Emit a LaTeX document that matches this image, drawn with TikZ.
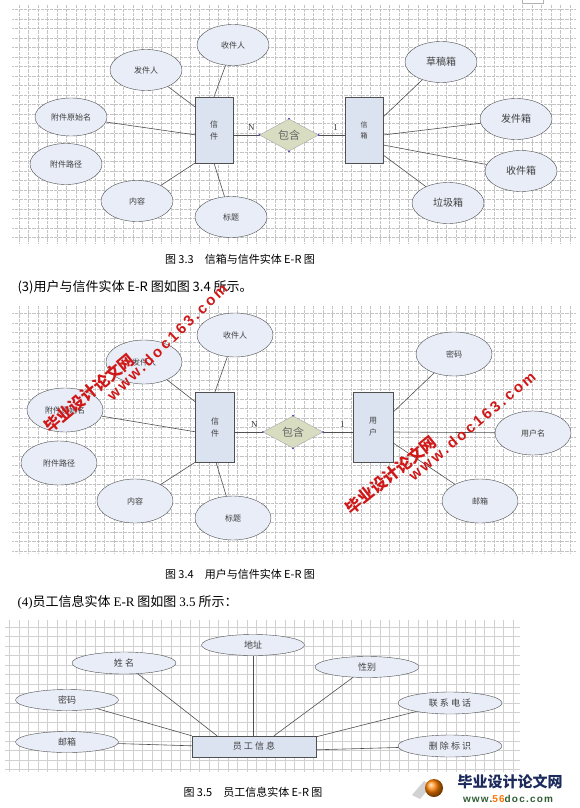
\documentclass[tikz,border=0pt]{standalone}
\usepackage{fontspec}
\setmainfont{Noto Sans CJK SC}
\newfontfamily\serifnum{Liberation Serif}
\newfontfamily\wmfont[LetterSpace=18]{Liberation Sans}
\newfontfamily\logofont[LetterSpace=12]{Liberation Sans}
\usetikzlibrary{shapes.geometric}
\definecolor{attrfill}{HTML}{E8EDF7}
\definecolor{entfill}{HTML}{DCE3F0}
\definecolor{relfill}{HTML}{D8DDC2}
\definecolor{linegray}{HTML}{505050}
\definecolor{wmred}{HTML}{D01818}
\definecolor{gridgray}{HTML}{C4C4C4}
\definecolor{logonavy}{HTML}{1C2A5C}
\definecolor{logogreen}{HTML}{2F5E34}
\begin{document}
\begin{tikzpicture}[x=1pt,y=1pt,
  attr/.style={ellipse,draw=linegray,fill=attrfill,inner sep=0pt,minimum width=72pt,minimum height=41pt,font=\fontsize{8}{9}\selectfont,text=black!75},
  bigattr/.style={attr,font=\fontsize{10}{11}\selectfont},
  flatattr/.style={attr,minimum width=103pt,minimum height=21pt,font=\fontsize{9}{10}\selectfont},
  ent/.style={rectangle,draw=linegray,fill=entfill,inner sep=0pt,minimum width=38pt,minimum height=66pt,align=center,font=\fontsize{8}{12}\selectfont,text=black!75},
  rel/.style={diamond,draw=gray!70,fill=relfill,inner sep=0pt,minimum width=59pt,minimum height=31pt,font=\fontsize{11}{12}\selectfont,text=black!60},
  conn/.style={draw=linegray,line width=0.6pt},
  card/.style={font=\serifnum\fontsize{9}{10}\selectfont,text=black!80},
  caption/.style={font=\fontsize{11}{12}\selectfont},
  bodytext/.style={anchor=west,font=\fontsize{13}{14}\selectfont},
  wm/.style={text=wmred,font=\bfseries\fontsize{16}{16}\selectfont},
  wmurl/.style={text=wmred,font=\wmfont\bfseries\fontsize{15}{15}\selectfont}]
\useasboundingbox (0,0) rectangle (580,-808);
\fill[white] (0,0) rectangle (580,-808);
\draw[gray!60] (522,0) -- (522,-3) -- (543,-3) -- (543,0);
% grids
\draw[gridgray,densely dotted,line width=0.3pt,step=9.5pt] (12,-243) grid (575,-5);
\draw[gridgray,densely dotted,line width=0.3pt,step=9.5pt] (12,-553) grid (575,-305);
\draw[gridgray!80,line width=0.3pt,step=9.5pt] (5,-772) grid (520,-620);

% 3.3
\node[ent] (xjA) at (214,-130) {信\\件};
\node[attr] (sjrA) at (233,-45) {收件人};
\node[attr] (fjrA) at (146,-70) {发件人};
\node[attr,minimum height=38pt] (ysmA) at (71,-117) {附件原始名};
\node[attr] (ljA) at (66,-164) {附件路径};
\node[attr] (nrA) at (137,-201) {内容};
\node[attr] (btA) at (231,-217) {标题};
\node[rel] (bhA) at (289,-135) {包含};
\node[ent,font=\fontsize{7}{11}\selectfont] (xx) at (364,-130) {信\\箱};
\node[bigattr] (cgx) at (441,-62) {草稿箱};
\node[bigattr] (fjx) at (516,-119) {发件箱};
\node[bigattr] (sjx) at (521,-171) {收件箱};
\node[bigattr] (ljx) at (448,-203) {垃圾箱};
\draw[conn] (xjA.north) -- (sjrA);
\draw[conn] ([yshift=-10pt]xjA.north west) -- (fjrA);
\draw[conn] ([yshift=-38pt]xjA.north west) -- (ysmA);
\draw[conn] (xjA.south west) -- (nrA);
\draw[conn] (xjA.south) -- (btA);
\draw[conn] ([yshift=-5pt]xjA.east) -- (bhA.west) node[card,pos=0.7,above=1pt] (nA) {N};
\draw[conn] (bhA.east) -- ([yshift=-5pt]xx.west) node[card,pos=0.65,above=1pt] (oneA) {1};
\draw[conn] ([yshift=13pt]xx.east) -- (cgx);
\draw[conn] ([yshift=-5pt]xx.east) -- (fjx);
\draw[conn] ([yshift=-15pt]xx.east) -- (sjx);
\draw[conn] ([yshift=-25pt]xx.east) -- (ljx);
\foreach \a in {north,south,east,west}
  \fill[blue!45!gray] (bhA.\a) circle (1pt);

\node[caption] (capA) at (240,-259) {图 3.3\quad 信箱与信件实体 E-R 图};
\node[bodytext] (txtA) at (14,-287) {(3)用户与信件实体 E-R 图如图 3.4 所示。};

% 3.4
\node[ent,minimum height=70pt,minimum width=39pt] (xjB) at (215,-427) {信\\件};
\node[attr,minimum width=76pt,minimum height=44pt] (sjrB) at (235,-335) {收件人};
\node[attr,minimum width=76pt,minimum height=44pt] (fjrB) at (144,-362) {发件人};
\node[attr,minimum width=76pt,minimum height=44pt] (ysmB) at (65,-410) {附件原始名};
\node[attr,minimum width=76pt,minimum height=44pt] (ljB) at (59,-463) {附件路径};
\node[attr,minimum width=76pt,minimum height=44pt] (nrB) at (135,-501) {内容};
\node[attr,minimum width=76pt,minimum height=44pt] (btB) at (233,-518) {标题};
\node[rel,minimum width=60pt] (bhB) at (293,-432) {包含};
\node[ent,minimum height=70pt,minimum width=40pt] (yh) at (373,-427) {用\\户};
\node[attr,minimum width=76pt,minimum height=44pt] (mm) at (454,-354) {密码};
\node[attr,minimum width=76pt,minimum height=44pt] (yhm) at (533,-433) {用户名};
\node[attr,minimum width=76pt,minimum height=44pt] (yx) at (480,-501) {邮箱};
\draw[conn] (xjB.north) -- (sjrB);
\draw[conn] ([yshift=-10pt]xjB.north west) -- (fjrB);
\draw[conn] ([yshift=-40pt]xjB.north west) -- (ysmB);
\draw[conn] (xjB.south west) -- (nrB);
\draw[conn] ([xshift=1pt]xjB.south) -- (btB);
\draw[conn] ([yshift=-5pt]xjB.east) -- (bhB.west) node[card,pos=0.7,above=1pt] (nB) {N};
\draw[conn] (bhB.east) -- ([yshift=-5pt]yh.west) node[card,pos=0.65,above=1pt] (oneB) {1};
\draw[conn] ([yshift=15pt]yh.east) -- (mm);
\draw[conn] ([yshift=-5pt]yh.east) -- (yhm);
\draw[conn] ([yshift=-16pt]yh.east) -- (yx);
\foreach \a in {north,south,east,west}
  \fill[blue!45!gray] (bhB.\a) circle (1pt);

\node[caption] (capB) at (240,-574) {图 3.4\quad 用户与信件实体 E-R 图};
\node[bodytext] (txtB) at (14,-602) {{\serifnum(4)}员工信息实体 {\serifnum E-R} 图如图 {\serifnum 3.5} 所示：};

% 3.5
\node[ent,minimum width=124pt,minimum height=21pt,font=\fontsize{9}{10}\selectfont] (yg) at (254,-746.5) {员 工 信 息};
\node[flatattr] (dz) at (253,-645) {地址};
\node[flatattr,minimum width=104pt,minimum height=22pt] (xm) at (124,-663) {姓 名};
\node[flatattr] (mmC) at (67,-700) {密码};
\node[flatattr] (yxC) at (67,-742) {邮箱};
\node[flatattr,minimum width=104pt] (xb) at (367,-667) {性别};
\node[flatattr,minimum width=104pt,minimum height=22pt] (lxdh) at (450,-703) {联 系 电 话};
\node[flatattr,minimum width=104pt,minimum height=22pt] (scbs) at (450,-746) {删 除 标 识};
\draw[conn] (xm) -- ([xshift=-37pt]yg.north);
\draw[conn] (dz) -- ([xshift=-1pt]yg.north);
\draw[conn] (xb) -- ([xshift=20pt]yg.north);
\draw[conn] (mmC) -- (yg.north west);
\draw[conn] (yxC) -- ([yshift=-10pt]yg.north west);
\draw[conn] ([yshift=-1pt]yg.north east) -- (lxdh);
\draw[conn] ([yshift=-14pt]yg.north east) -- (scbs);

\node[caption] (capC) at (253,-792) {图 3.5\quad 员工信息实体 E-R 图};

% watermarks
\node[wm,rotate=40] (wmA1) at (89,-393) {毕业设计论文网};
\node[wmurl,rotate=44] (wmA2) at (167,-342) {www.doc163.com};
\node[wm,rotate=39] (wmB1) at (391,-475) {毕业设计论文网};
\node[wmurl,rotate=40] (wmB2) at (472,-426) {www.doc163.com};

% logo
\fill[gray!35] (412,-795) -- (424,-781) -- (432,-785) -- (420,-799) -- cycle;
\shade[ball color=orange] (434,-788) circle (9pt);
\node[text=logonavy,font=\bfseries\fontsize{15}{15}\selectfont] (logoA) at (510,-782) {毕业设计论文网};
\node[text=logogreen,font=\logofont\bfseries\fontsize{10}{10}\selectfont] (logoB) at (508,-799) {www.{\color{orange!90!red}56}doc.com};
\end{tikzpicture}
\end{document}
